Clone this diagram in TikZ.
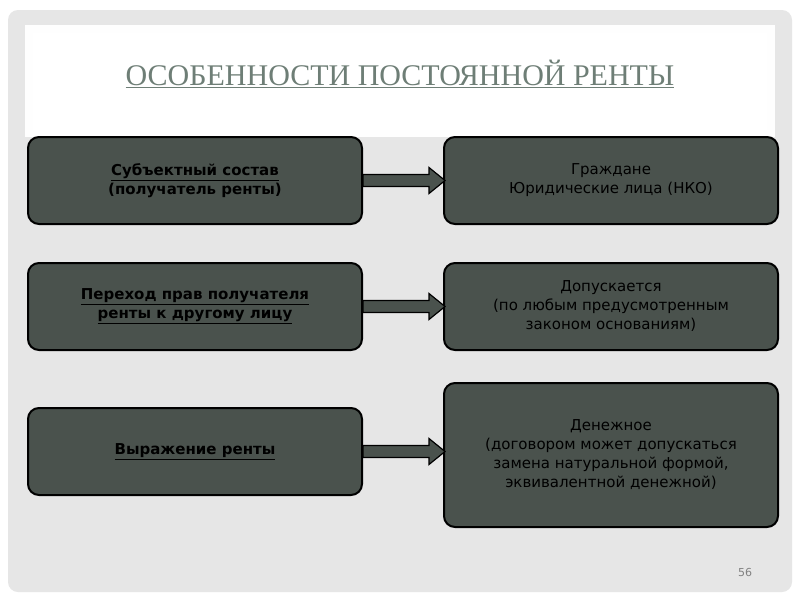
\documentclass[tikz,border=0pt]{standalone}
\usepackage{fontspec}
\setmainfont{DejaVu Sans}
\newfontfamily\titlefont{Liberation Serif}
\usetikzlibrary{calc}
\definecolor{panel}{HTML}{E6E6E6}
\definecolor{boxfill}{HTML}{4A524D}
\definecolor{titlecol}{HTML}{6E7E76}
\begin{document}
\begin{tikzpicture}[x=1pt,y=-1pt,
  box/.style={draw=black,line width=2pt,fill=boxfill,rounded corners=11pt,minimum width=334pt,align=center,font=\fontsize{15}{19}\selectfont,text=black},
  barrow/.style={draw=black,line width=1.2pt,fill=boxfill}]
\useasboundingbox (0,0) rectangle (800,600);
\fill[white] (0,0) rectangle (800,600);
\fill[panel,rounded corners=10pt] (8,10) rectangle (792,592);
\fill[white!97!panel] (25,25) rectangle (775,137);
\fill[white] (33,33) rectangle (767,130);
\node[font=\titlefont\fontsize{30}{34}\selectfont,text=titlecol] (title) at (400,74) {\underline{ОСОБЕННОСТИ ПОСТОЯННОЙ РЕНТЫ}};
\node[box,minimum height=87pt] (l1) at (195,180.5) {\textbf{\underline{Субъектный состав}}\\\textbf{(получатель ренты)}};
\node[box,minimum height=87pt] (r1) at (611,180.5) {Граждане\\Юридические лица (НКО)};
\node[box,minimum height=87pt] (l2) at (195,306.5) {\textbf{\underline{Переход прав получателя}}\\\textbf{\underline{ренты к другому лицу}}};
\node[box,minimum height=87pt] (r2) at (611,306.5) {Допускается\\(по любым предусмотренным\\законом основаниям)};
\node[box,minimum height=87pt] (l3) at (195,451.5) {\textbf{\underline{Выражение ренты}}};
\node[box,minimum height=144pt] (r3) at (611,455) {Денежное\\(договором может допускаться\\замена натуральной формой,\\эквивалентной денежной)};
\foreach \a/\b in {l1/r1,l2/r2,l3/r3}{
  \draw[barrow] ($(\a.east)+(0,-6)$) -- ($(\a.east)+(66,-6)$) -- ($(\a.east)+(66,-13)$) -- ($(\a.east)+(82,0)$) -- ($(\a.east)+(66,13)$) -- ($(\a.east)+(66,6)$) -- ($(\a.east)+(0,6)$) -- cycle;
}
\node[font=\fontsize{11}{13}\selectfont,text=gray] (num) at (745,572) {56};
\end{tikzpicture}
\end{document}
